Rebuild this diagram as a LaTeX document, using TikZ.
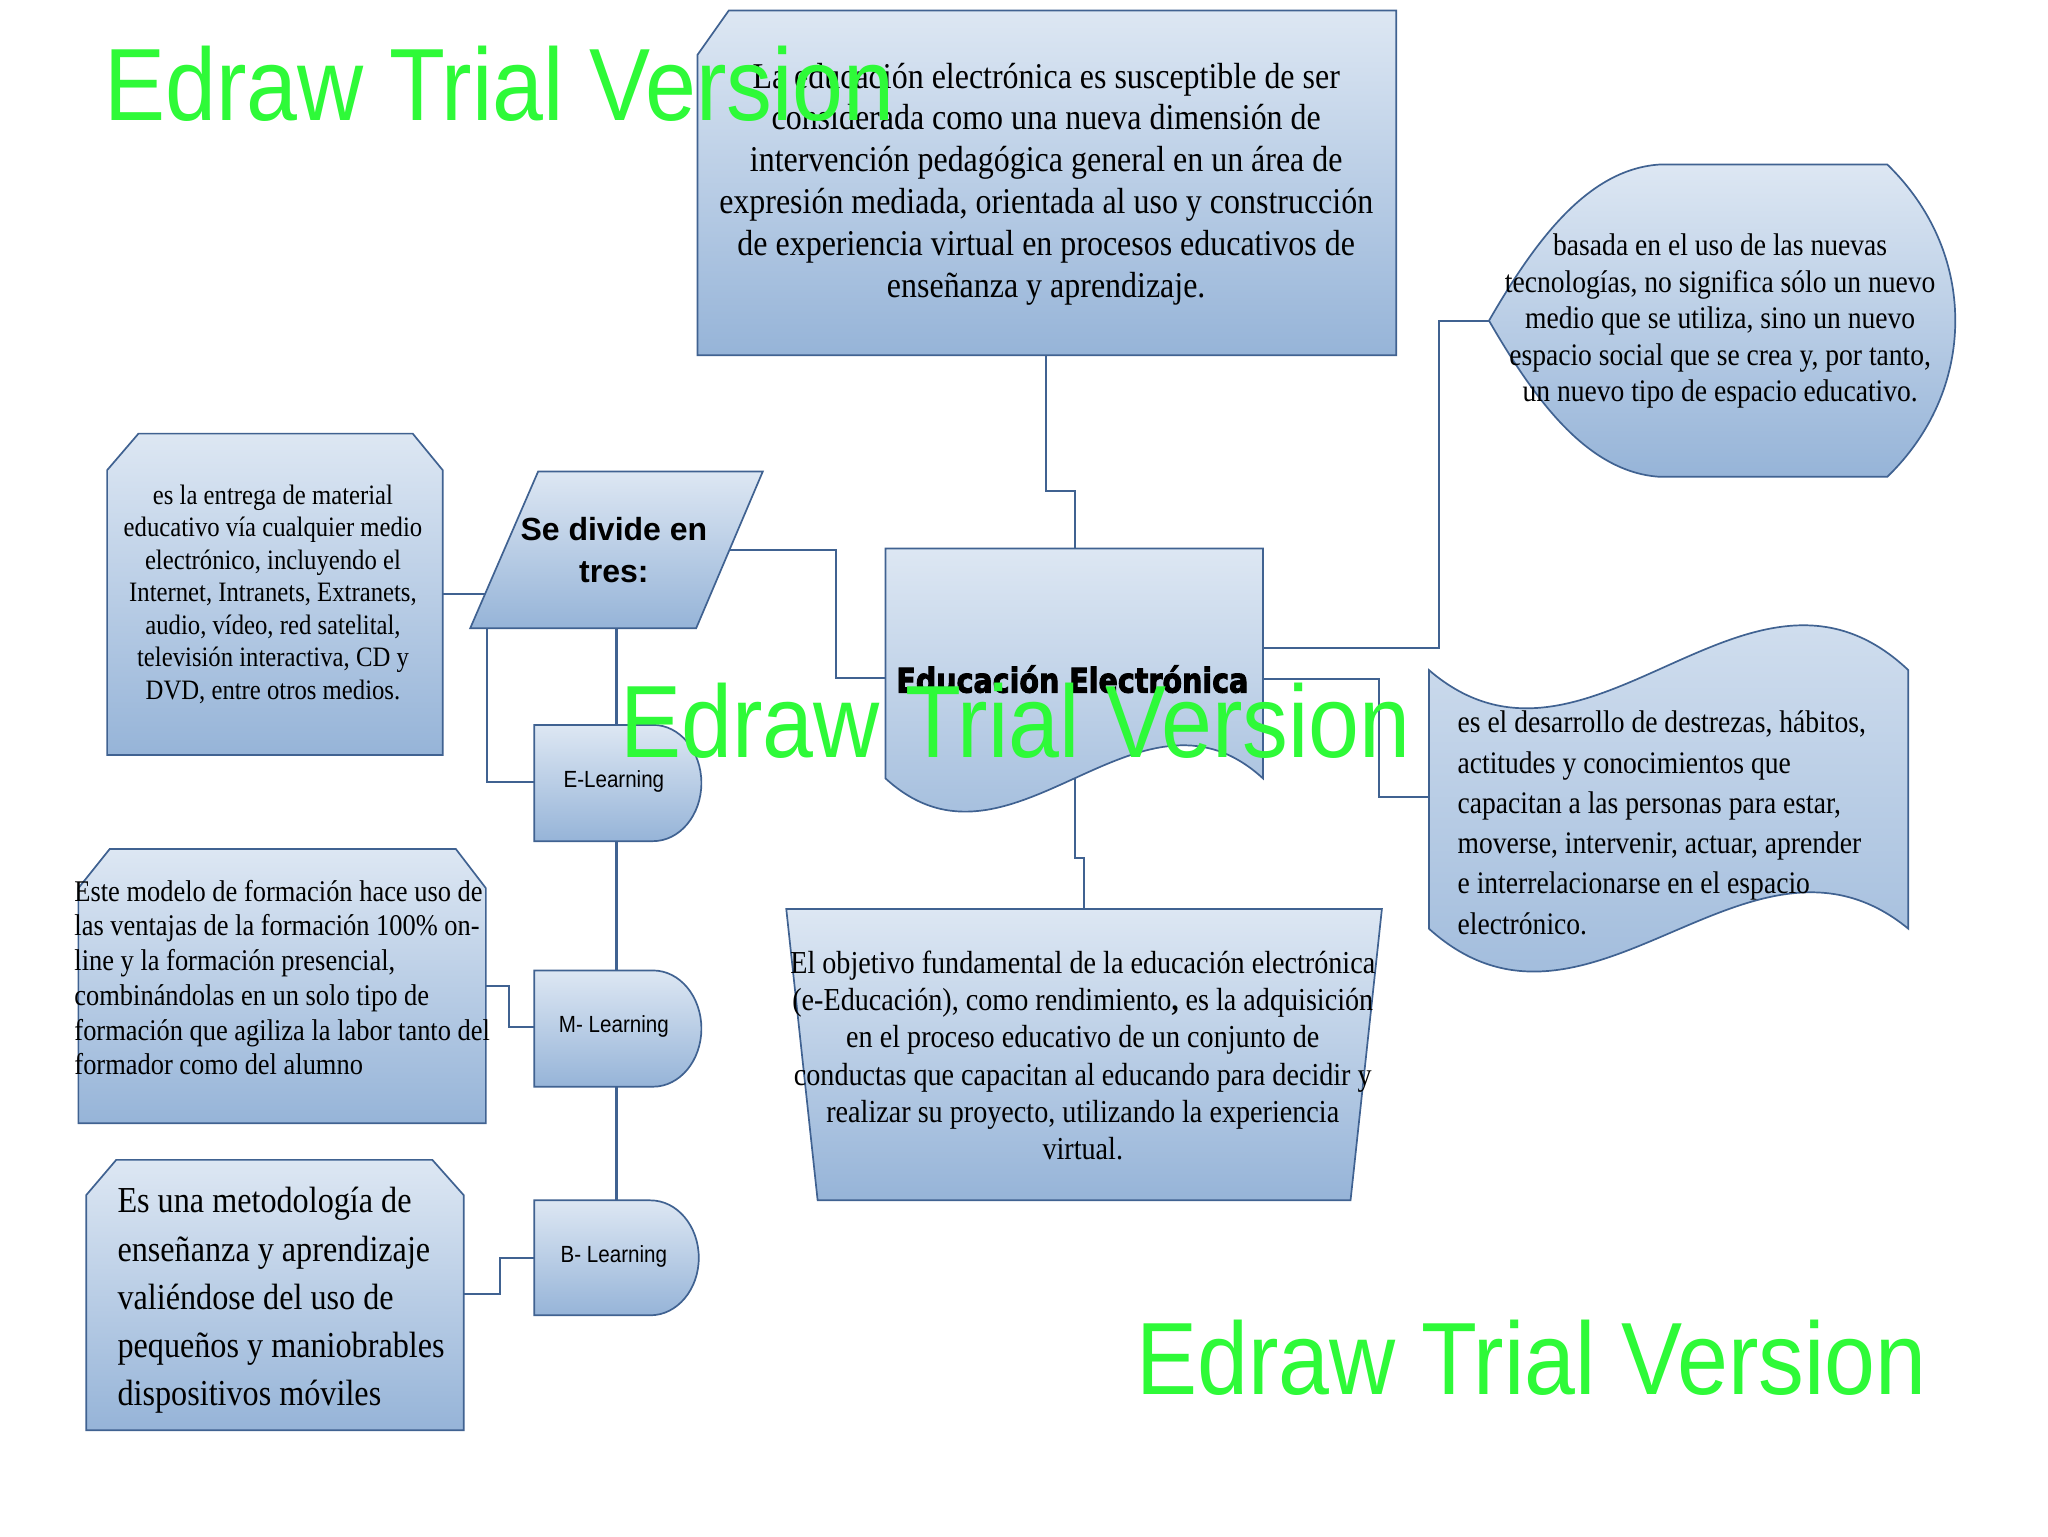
\documentclass[tikz,border=0pt]{standalone}
\usepackage{fontspec}
\setmainfont{Liberation Serif}[FakeStretch=0.88]
\newfontfamily\lblfont{Liberation Sans}[FakeStretch=0.88]
\newfontfamily\boldsans{Liberation Sans}
\newfontfamily\wmfont{Liberation Sans}
\newfontfamily\heavyfont{DejaVu Sans}[BoldFeatures={FakeBold=3}]
\definecolor{edge}{RGB}{64,98,145}
\definecolor{boxtop}{RGB}{221,231,243}
\definecolor{boxbot}{RGB}{150,180,216}
\definecolor{wmgreen}{RGB}{46,250,56}
\tikzset{
  shapebox/.style={draw=edge, line width=1.3pt, top color=boxtop, bottom color=boxbot, line join=miter},
  conn/.style={draw=edge, line width=1.6pt},
  txt/.style={inner sep=0pt, outer sep=0pt, text=black},
  wm/.style={inner sep=0pt, outer sep=0pt, text=wmgreen, anchor=base west},
}
\begin{document}
\begin{tikzpicture}[x=1pt,y=-1pt]
\useasboundingbox (0,0) rectangle (1568,1176);
\fill[white] (0,0) rectangle (1568,1176);

% anchor coordinates
\coordinate (top-s) at (801,272);
\coordinate (doc-n) at (823,420);
\coordinate (doc-w) at (678,519);
\coordinate (doc-e1) at (967,496);
\coordinate (doc-e2) at (967,519.5);
\coordinate (doc-s) at (823,596);
\coordinate (par-e) at (558.5,421);
\coordinate (par-w) at (371.5,455);
\coordinate (par-sw) at (373,481);
\coordinate (par-s) at (472,481);
\coordinate (box1-e) at (339,455);
\coordinate (box2-e) at (372,755);
\coordinate (box3-e) at (355,991);
\coordinate (el-n) at (472,555);
\coordinate (el-s) at (472,644);
\coordinate (el-w) at (409,598.5);
\coordinate (ml-n) at (472,743);
\coordinate (ml-s) at (472,832);
\coordinate (ml-w) at (409,786);
\coordinate (bl-n) at (472,919);
\coordinate (bl-w) at (409,963);
\coordinate (disp-w) at (1140,245.5);
\coordinate (ban-w) at (1094,610);
\coordinate (trap-n) at (830,696);

% connectors
\draw[conn] (top-s) -- ++(0,104) -| (doc-n);
\draw[conn] (par-e) -- ++(81.5,0) |- (doc-w);
\draw[conn] (box1-e) -- (par-w);
\draw[conn] (par-sw) |- (el-w);
\draw[conn] (par-s) -- (el-n);
\draw[conn] (el-s) -- (ml-n);
\draw[conn] (ml-s) -- (bl-n);
\draw[conn] (box2-e) -- ++(18,0) |- (ml-w);
\draw[conn] (box3-e) -- ++(28,0) |- (bl-w);
\draw[conn] (doc-e1) -- ++(135,0) |- (disp-w);
\draw[conn] (doc-e2) -- ++(89,0) |- (ban-w);
\draw[conn] (doc-s) -- ++(0,61) -| (trap-n);

% shapes
\path[shapebox] (558,8) -- (1069,8) -- (1069,272) -- (534,272) -- (534,42) -- cycle;
\path[shapebox] (678,420) -- (967,420) -- (967,596) .. controls (871,508) and (774,684) .. (678,596) -- cycle;
\path[shapebox] (412,361) -- (584,361) -- (533,481) -- (360,481) -- cycle;
\path[shapebox] (409,555) -- (500,555) .. controls (520.4,555) and (537,574.9) .. (537,599.5) .. controls (537,624.1) and (520.4,644) .. (500,644) -- (409,644) -- cycle;
\path[shapebox] (409,743) -- (500,743) .. controls (520.4,743) and (537,762.9) .. (537,787.5) .. controls (537,812.1) and (520.4,832) .. (500,832) -- (409,832) -- cycle;
\path[shapebox] (409,919) -- (498,919) .. controls (518.4,919) and (535,938.7) .. (535,963) .. controls (535,987.3) and (518.4,1007) .. (498,1007) -- (409,1007) -- cycle;
\path[shapebox] (106,332) -- (316,332) -- (339,360) -- (339,578) -- (82,578) -- (82,360) -- cycle;
\path[shapebox] (84,650) -- (349,650) -- (372,680) -- (372,860) -- (60,860) -- (60,680) -- cycle;
\path[shapebox] (89,888) -- (331,888) -- (355,915) -- (355,1095) -- (66,1095) -- (66,915) -- cycle;
\path[shapebox] (1270,126) -- (1445,126) .. controls (1478,158) and (1497,200) .. (1497,245.5) .. controls (1497,291) and (1478,333) .. (1445,365) -- (1270,365) .. controls (1215,361) and (1175,306) .. (1140,245.5) .. controls (1175,185) and (1215,130) .. (1270,126) -- cycle;
\path[shapebox] (1094,513) .. controls (1216,618) and (1339,398) .. (1461,513) -- (1461,711) .. controls (1339,611) and (1216,821) .. (1094,711) -- cycle;
\path[shapebox] (602,696) -- (1058,696) -- (1034,919) -- (626,919) -- cycle;

% texts
\node[txt, align=center, font={\fontsize{27.8}{32.1}\selectfont}] (toptext) at (801,141) {La educación electrónica es susceptible de ser\\considerada como una nueva dimensión de\\intervención pedagógica general en un área de\\expresión mediada, orientada al uso y construcción\\de experiencia virtual en procesos educativos de\\enseñanza y aprendizaje.};
\node[txt] (doctext) at (821,520) {\scalebox{0.84}[1]{\heavyfont\bfseries\fontsize{26}{26}\selectfont Educación Electrónica}};
\node[txt, align=center, font={\boldsans\bfseries\fontsize{24.5}{32}\selectfont}] (partext) at (470,421) {Se divide en\\tres:};
\node[txt, font={\lblfont\fontsize{17.9}{20}\selectfont}] (eltext) at (470,598.5) {E-Learning};
\node[txt, font={\lblfont\fontsize{17.9}{20}\selectfont}] (mltext) at (470,786) {M- Learning};
\node[txt, font={\lblfont\fontsize{17.9}{20}\selectfont}] (bltext) at (470,962) {B- Learning};
\node[txt, align=center, font={\fontsize{21.5}{24.9}\selectfont}] (box1text) at (209,455) {es la entrega de material\\educativo vía cualquier medio\\electrónico, incluyendo el\\Internet, Intranets, Extranets,\\audio, vídeo, red satelital,\\televisión interactiva, CD y\\DVD, entre otros medios.};
\node[txt, align=left, anchor=west, font={\fontsize{23}{26.6}\selectfont}] (box2text) at (57,748.5) {Este modelo de formación hace uso de\\las ventajas de la formación 100\% on-\\line y la formación presencial,\\combinándolas en un solo tipo de\\formación que agiliza la labor tanto del\\formador como del alumno};
\node[txt, align=left, anchor=west, font={\fontsize{28}{36.8}\selectfont}] (box3text) at (90,995.5) {Es una metodología de\\enseñanza y aprendizaje\\valiéndose del uso de\\pequeños y maniobrables\\dispositivos móviles};
\node[txt, align=center, font={\fontsize{24}{28}\selectfont}] (disptext) at (1317,246) {basada en el uso de las nuevas\\tecnologías, no significa sólo un nuevo\\medio que se utiliza, sino un nuevo\\espacio social que se crea y, por tanto,\\un nuevo tipo de espacio educativo.};
\node[txt, align=left, anchor=west, font={\fontsize{24}{30.8}\selectfont}] (bantext) at (1116,630) {es el desarrollo de destrezas, hábitos,\\actitudes y conocimientos que\\capacitan a las personas para estar,\\moverse, intervenir, actuar, aprender\\e interrelacionarse en el espacio\\electrónico.};
\node[txt, align=center, font={\fontsize{24.5}{28.6}\selectfont}] (traptext) at (829,808) {El objetivo fundamental de la educación electrónica\\(e-Educación), como rendimiento\textbf{,} es la adquisición\\en el proceso educativo de un conjunto de\\conductas que capacitan al educando para decidir y\\realizar su proyecto, utilizando la experiencia\\virtual.};

% watermarks
\node[wm] (wm1) at (80,92) {\resizebox{605pt}{57pt}{\wmfont Edraw Trial Version}};
\node[wm] (wm2) at (475,580) {\resizebox{605pt}{57pt}{\wmfont Edraw Trial Version}};
\node[wm] (wm3) at (870,1068) {\resizebox{605pt}{57pt}{\wmfont Edraw Trial Version}};
\end{tikzpicture}
\end{document}
